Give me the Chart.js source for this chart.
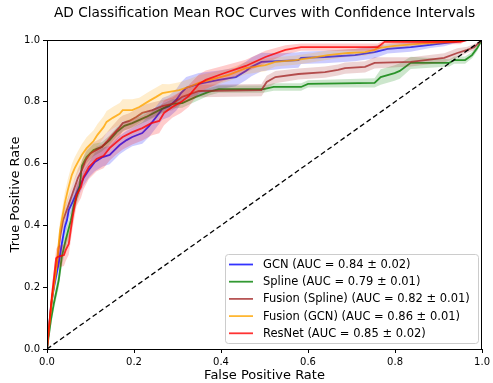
<!DOCTYPE html>
<html>
<head>
<meta charset="utf-8">
<script src="https://cdn.jsdelivr.net/npm/chart.js@4.4.0/dist/chart.umd.min.js"></script>
<style>
  html, body { margin: 0; padding: 0; background: #fff; }
</style>
</head>
<body>
<canvas id="roc" width="493" height="383"></canvas>
<script>
// Models, legend text and colours
const models = ["GCN", "Spline", "Fusion (Spline)", "Fusion (GCN)", "ResNet"];
const aucText = ["0.84 ± 0.02", "0.79 ± 0.01", "0.82 ± 0.01", "0.86 ± 0.01", "0.85 ± 0.02"];
const colors = [[0, 0, 255], [0, 128, 0], [165, 42, 42], [255, 165, 0], [255, 0, 0]];

// Axis ticks
const tickValues = [0, 0.2, 0.4, 0.6, 0.8, 1.0];
const tickLabels = ["0.0", "0.2", "0.4", "0.6", "0.8", "1.0"];

// GCN
const gcnFpr = [0, 0.009, 0.016, 0.027, 0.034, 0.041, 0.046, 0.050, 0.059, 0.071, 0.084, 0.098, 0.110, 0.128, 0.144, 0.151, 0.167, 0.183, 0.196, 0.219, 0.235, 0.251, 0.265, 0.281, 0.297, 0.308, 0.320, 0.349, 0.395, 0.434, 0.457, 0.470, 0.493, 0.539, 0.578, 0.584, 0.639, 0.708, 0.753, 0.783, 0.836, 0.881, 0.913, 0.936, 0.966, 1];
const gcnTpr = [0, 0.136, 0.201, 0.278, 0.340, 0.395, 0.417, 0.450, 0.476, 0.515, 0.553, 0.583, 0.605, 0.621, 0.628, 0.638, 0.660, 0.676, 0.686, 0.699, 0.722, 0.751, 0.777, 0.786, 0.806, 0.828, 0.845, 0.858, 0.871, 0.880, 0.900, 0.913, 0.929, 0.932, 0.935, 0.942, 0.945, 0.951, 0.961, 0.971, 0.977, 0.984, 0.990, 0.994, 1, 1];
const gcnStd = [0, 0.02, 0.02, 0.025, 0.025, 0.025, 0.025, 0.025, 0.025, 0.025, 0.025, 0.025, 0.03, 0.03, 0.03, 0.03, 0.03, 0.03, 0.03, 0.035, 0.035, 0.035, 0.035, 0.035, 0.035, 0.035, 0.035, 0.035, 0.03, 0.03, 0.03, 0.03, 0.03, 0.025, 0.025, 0.02, 0.02, 0.02, 0.02, 0.015, 0.015, 0.01, 0.01, 0.005, 0, 0];

// Spline
const splineFpr = [0, 0.009, 0.016, 0.027, 0.034, 0.043, 0.055, 0.062, 0.075, 0.080, 0.091, 0.107, 0.126, 0.144, 0.160, 0.178, 0.196, 0.228, 0.258, 0.288, 0.311, 0.342, 0.372, 0.395, 0.498, 0.521, 0.584, 0.600, 0.753, 0.767, 0.799, 0.811, 0.836, 0.925, 0.936, 0.961, 0.977, 0.989, 1];
const splineTpr = [0, 0.094, 0.149, 0.223, 0.298, 0.353, 0.417, 0.466, 0.524, 0.592, 0.621, 0.644, 0.654, 0.676, 0.702, 0.722, 0.731, 0.751, 0.773, 0.793, 0.796, 0.816, 0.832, 0.841, 0.841, 0.848, 0.848, 0.858, 0.861, 0.880, 0.893, 0.900, 0.926, 0.926, 0.935, 0.935, 0.951, 0.974, 1];
const splineStd = [0, 0.02, 0.02, 0.025, 0.03, 0.03, 0.03, 0.025, 0.025, 0.02, 0.02, 0.02, 0.015, 0.015, 0.015, 0.015, 0.015, 0.015, 0.015, 0.015, 0.015, 0.015, 0.012, 0.012, 0.012, 0.012, 0.012, 0.012, 0.015, 0.025, 0.025, 0.025, 0.02, 0.012, 0.012, 0.012, 0.01, 0.01, 0];

// Fusion (Spline)
const fusSplFpr = [0, 0.011, 0.021, 0.030, 0.037, 0.048, 0.059, 0.071, 0.080, 0.089, 0.100, 0.114, 0.126, 0.137, 0.151, 0.167, 0.174, 0.189, 0.205, 0.219, 0.242, 0.265, 0.288, 0.311, 0.349, 0.493, 0.505, 0.525, 0.578, 0.639, 0.669, 0.685, 0.731, 0.753, 0.836, 0.913, 0.943, 0.966, 0.982, 1];
const fusSplTpr = [0, 0.159, 0.256, 0.362, 0.417, 0.460, 0.505, 0.553, 0.579, 0.612, 0.634, 0.644, 0.654, 0.670, 0.693, 0.718, 0.731, 0.738, 0.751, 0.764, 0.773, 0.786, 0.793, 0.816, 0.835, 0.838, 0.864, 0.880, 0.890, 0.896, 0.903, 0.909, 0.913, 0.926, 0.929, 0.942, 0.958, 0.968, 0.977, 1];
const fusSplStd = [0, 0.02, 0.025, 0.03, 0.03, 0.03, 0.03, 0.03, 0.03, 0.03, 0.03, 0.03, 0.03, 0.03, 0.03, 0.03, 0.025, 0.025, 0.025, 0.025, 0.025, 0.02, 0.02, 0.02, 0.02, 0.02, 0.02, 0.02, 0.018, 0.018, 0.018, 0.018, 0.018, 0.018, 0.015, 0.015, 0.015, 0.01, 0.01, 0];

// Fusion (GCN)
const fusGcnFpr = [0, 0.011, 0.021, 0.030, 0.034, 0.041, 0.048, 0.057, 0.064, 0.071, 0.080, 0.091, 0.107, 0.116, 0.130, 0.137, 0.151, 0.167, 0.174, 0.196, 0.212, 0.235, 0.251, 0.265, 0.281, 0.304, 0.326, 0.349, 0.418, 0.457, 0.502, 0.525, 0.571, 0.607, 0.646, 0.692, 0.731, 0.753, 0.760, 0.799, 0.874, 0.927, 0.966, 1];
const fusGcnTpr = [0, 0.159, 0.256, 0.385, 0.417, 0.472, 0.515, 0.563, 0.586, 0.605, 0.628, 0.650, 0.673, 0.693, 0.718, 0.735, 0.748, 0.761, 0.773, 0.773, 0.783, 0.803, 0.816, 0.828, 0.832, 0.838, 0.848, 0.861, 0.887, 0.909, 0.919, 0.929, 0.935, 0.942, 0.951, 0.958, 0.961, 0.968, 0.974, 0.981, 0.990, 0.994, 1, 1];
const fusGcnStd = [0, 0.03, 0.03, 0.03, 0.03, 0.035, 0.035, 0.035, 0.035, 0.035, 0.035, 0.035, 0.035, 0.035, 0.035, 0.035, 0.035, 0.035, 0.035, 0.035, 0.03, 0.03, 0.03, 0.03, 0.025, 0.025, 0.025, 0.025, 0.02, 0.02, 0.02, 0.015, 0.015, 0.015, 0.015, 0.012, 0.012, 0.012, 0.01, 0.01, 0.008, 0.005, 0, 0];

// ResNet
const resnetFpr = [0, 0.011, 0.021, 0.025, 0.039, 0.043, 0.050, 0.059, 0.068, 0.078, 0.084, 0.096, 0.114, 0.130, 0.144, 0.160, 0.174, 0.196, 0.219, 0.240, 0.258, 0.269, 0.288, 0.308, 0.326, 0.349, 0.365, 0.402, 0.457, 0.502, 0.548, 0.584, 0.760, 0.776, 0.950, 0.966, 1];
const resnetTpr = [0, 0.168, 0.294, 0.298, 0.304, 0.320, 0.340, 0.427, 0.498, 0.524, 0.557, 0.589, 0.615, 0.625, 0.650, 0.670, 0.686, 0.702, 0.715, 0.731, 0.738, 0.764, 0.783, 0.799, 0.819, 0.858, 0.871, 0.890, 0.916, 0.945, 0.968, 0.977, 0.977, 0.994, 0.994, 1, 1];
const resnetStd = [0, 0.03, 0.03, 0.035, 0.035, 0.035, 0.035, 0.035, 0.035, 0.035, 0.04, 0.04, 0.04, 0.04, 0.04, 0.04, 0.04, 0.04, 0.04, 0.04, 0.04, 0.04, 0.035, 0.035, 0.035, 0.03, 0.03, 0.025, 0.02, 0.02, 0.015, 0.012, 0.012, 0.008, 0.008, 0, 0];

const fprs = [gcnFpr, splineFpr, fusSplFpr, fusGcnFpr, resnetFpr];
const tprs = [gcnTpr, splineTpr, fusSplTpr, fusGcnTpr, resnetTpr];
const stds = [gcnStd, splineStd, fusSplStd, fusGcnStd, resnetStd];

const rgba = (c, a) => `rgba(${c[0]},${c[1]},${c[2]},${a})`;

// build band (lower/upper) + mean line for each model, later ones on top
const datasets = [];
let order = 100;
models.forEach((name, m) => {
    const fpr = fprs[m], tpr = tprs[m], sd = stds[m];
    datasets.push({
        label: name + " lower",
        data: fpr.map((x, i) => ({ x: x, y: Math.max(tpr[i] - (sd[i] || 0), 0) })),
        borderWidth: 0, borderColor: "transparent", pointRadius: 0, fill: false, order: order--
    });
    datasets.push({
        label: name + " band",
        data: fpr.map((x, i) => ({ x: x, y: Math.min(tpr[i] + (sd[i] || 0), 1) })),
        borderWidth: 0, borderColor: "transparent", pointRadius: 0,
        fill: "-1", backgroundColor: rgba(colors[m], 0.2), order: order--
    });
    datasets.push({
        label: `${name} (AUC = ${aucText[m]})`,
        data: fpr.map((x, i) => ({ x: x, y: tpr[i] })),
        borderColor: rgba(colors[m], 0.8), borderWidth: 1.8, pointRadius: 0, fill: false,
        order: order--, curve: m
    });
});

// chance line
datasets.push({
    label: "chance",
    data: [{ x: 0, y: 0 }, { x: 1, y: 1 }],
    borderColor: "#000", borderWidth: 1.3, borderDash: [5, 3], pointRadius: 0, fill: false, order: 0
});

// frame, title and legend drawn like matplotlib
const decor = {
    id: "decor",
    afterDraw(chart) {
        const { ctx, chartArea: a } = chart;
        ctx.save();
        ctx.strokeStyle = "#000";
        ctx.lineWidth = 1;
        ctx.strokeRect(Math.round(a.left) + 0.5, Math.round(a.top) + 0.5,
            Math.round(a.right - a.left) - 1, Math.round(a.bottom - a.top));

        ctx.fillStyle = "#000";
        ctx.font = "13.7px 'DejaVu Sans'";
        ctx.textAlign = "center";
        ctx.textBaseline = "middle";
        ctx.fillText("AD Classification Mean ROC Curves with Confidence Intervals", (a.left + a.right) / 2, 13);

        // legend box lower right
        const bx = 225.5, by = 254.5, bw = 253, bh = 89;
        ctx.beginPath();
        ctx.roundRect(bx, by, bw, bh, 3);
        ctx.fillStyle = "rgba(255,255,255,0.8)";
        ctx.fill();
        ctx.strokeStyle = "#cccccc";
        ctx.stroke();

        ctx.font = "11.5px 'DejaVu Sans'";
        ctx.textAlign = "left";
        const curves = chart.data.datasets.filter(d => d.curve !== undefined);
        curves.forEach((d, i) => {
            const y = 264.5 + i * 17.2;
            ctx.beginPath();
            ctx.moveTo(229, y);
            ctx.lineTo(253, y);
            ctx.strokeStyle = d.borderColor;
            ctx.lineWidth = 1.8;
            ctx.stroke();
            ctx.fillStyle = "#000";
            ctx.fillText(d.label, 263, y + 0.5);
        });
        ctx.restore();
    }
};

Chart.defaults.font.family = "'DejaVu Sans'";
Chart.defaults.color = "#000";

const axisCommon = {
    type: "linear",
    min: 0,
    max: 1,
    border: { display: false },
    grid: { drawOnChartArea: false, drawTicks: true, tickLength: 4, color: "#000" },
    afterBuildTicks: (scale) => { scale.ticks = tickValues.map(v => ({ value: v })); }
};

new Chart(document.getElementById("roc"), {
    type: "line",
    data: { datasets: datasets },
    options: {
        responsive: false,
        animation: false,
        devicePixelRatio: 1,
        layout: { padding: { top: 40, right: 8, left: 0, bottom: 0 } },
        plugins: {
            legend: { display: false },
            tooltip: { enabled: false }
        },
        scales: {
            x: Object.assign({}, axisCommon, {
                ticks: { font: { size: 10 }, padding: 3, maxRotation: 0, callback: (v, i) => tickLabels[i] },
                title: { display: true, text: "False Positive Rate", font: { size: 13 }, padding: { top: 2, bottom: 0 } },
                afterFit: (scale) => { scale.height = 34; }
            }),
            y: Object.assign({}, axisCommon, {
                ticks: { font: { size: 10 }, padding: 3, callback: (v, i) => tickLabels[i] },
                title: { display: true, text: "True Positive Rate", font: { size: 13 }, padding: { top: 8, bottom: 2 } },
                afterFit: (scale) => { scale.width = 47; }
            })
        }
    },
    plugins: [decor]
});
</script>
</body>
</html>
